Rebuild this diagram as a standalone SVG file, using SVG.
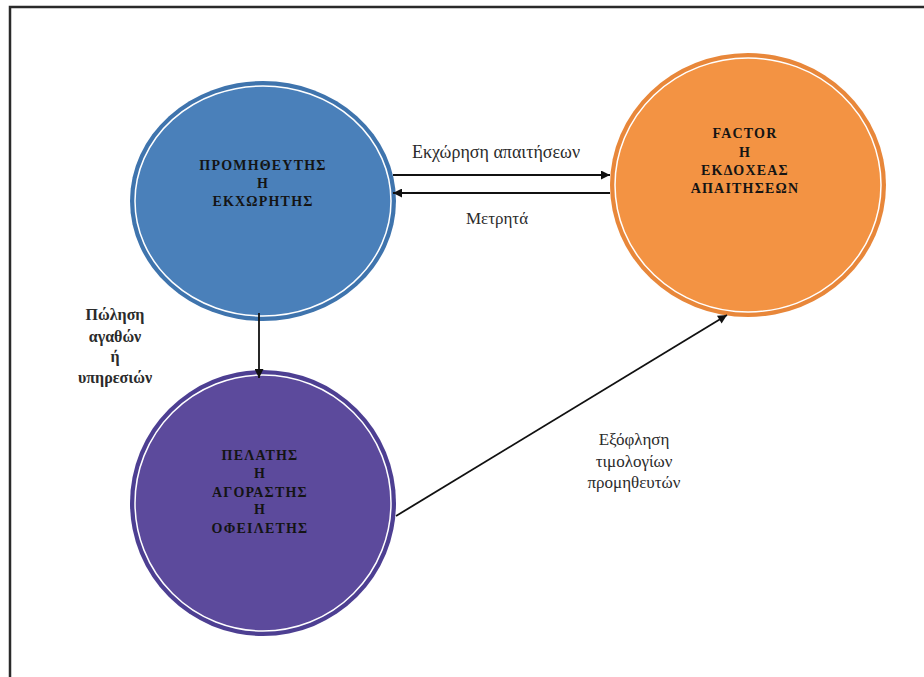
<svg xmlns="http://www.w3.org/2000/svg" width="924" height="677" viewBox="0 0 924 677">
<defs>
<style>
.frame{fill:#ffffff;stroke:#2a2a2a;stroke-width:2.5}
.ring{fill:none;stroke:#ffffff;stroke-width:1.5}
.node text{font-family:"Liberation Serif","Times New Roman",serif;font-weight:bold;font-size:14px;letter-spacing:1.2px;fill:#141414;text-anchor:middle}
.lbl{font-family:"Liberation Serif","Times New Roman",serif;font-size:17px;fill:#2b2b2b;text-anchor:middle}
.lblb{font-weight:bold;font-size:16px}
.big{font-size:18px}
.conn line{stroke:#111111;stroke-width:1.8}
</style>
<marker id="ah" viewBox="0 0 10 10" refX="10" refY="5" markerWidth="10" markerHeight="9" markerUnits="userSpaceOnUse" orient="auto">
<path d="M0,0 L10,5 L0,10 z" fill="#111111"/>
</marker>
</defs>
<rect x="0" y="0" width="924" height="677" fill="#ffffff"/>
<rect class="frame" x="10" y="7" width="930" height="690"/>

<g id="node-supplier" class="node">
<ellipse cx="263" cy="201" rx="133" ry="120" fill="#3f74ad"/>
<ellipse cx="263" cy="201" rx="128" ry="115" fill="#4a80ba"/>
<ellipse class="ring" cx="263" cy="201" rx="128" ry="115"/>
<text x="263" y="170">ΠΡΟΜΗΘΕΥΤΗΣ</text>
<text x="263" y="188">Η</text>
<text x="263" y="206">ΕΚΧΩΡΗΤΗΣ</text>
</g>

<g id="node-factor" class="node">
<ellipse cx="748" cy="185" rx="138" ry="132" fill="#e8873a"/>
<ellipse cx="748" cy="185" rx="133" ry="127" fill="#f39343"/>
<ellipse class="ring" cx="748" cy="185" rx="133" ry="127"/>
<text x="745" y="138">FACTOR</text>
<text x="745" y="157">Η</text>
<text x="745" y="175">ΕΚΔΟΧΕΑΣ</text>
<text x="745" y="193">ΑΠΑΙΤΗΣΕΩΝ</text>
</g>

<g id="node-customer" class="node">
<ellipse cx="263" cy="503" rx="133" ry="133" fill="#4d3f92"/>
<ellipse cx="263" cy="503" rx="128" ry="128" fill="#5c4a9c"/>
<ellipse class="ring" cx="263" cy="503" rx="128" ry="128"/>
<text x="260" y="460">ΠΕΛΑΤΗΣ</text>
<text x="260" y="478">Η</text>
<text x="260" y="497">ΑΓΟΡΑΣΤΗΣ</text>
<text x="260" y="514">Η</text>
<text x="260" y="533">ΟΦΕΙΛΕΤΗΣ</text>
</g>

<g id="connectors" class="conn">
<line x1="393" y1="175" x2="610" y2="175" marker-end="url(#ah)"/>
<line x1="610" y1="193" x2="393" y2="193" marker-end="url(#ah)"/>
<line x1="259" y1="313" x2="259" y2="378" marker-end="url(#ah)"/>
<line x1="396" y1="516" x2="727" y2="315" marker-end="url(#ah)"/>
</g>

<g id="labels">
<text class="lbl big" x="496" y="158">Εκχώρηση απαιτήσεων</text>
<text class="lbl" x="497" y="224">Μετρητά</text>
<text class="lbl lblb" x="115" y="320">Πώληση</text>
<text class="lbl lblb" x="115" y="342">αγαθών</text>
<text class="lbl lblb" x="115" y="362">ή</text>
<text class="lbl lblb" x="115" y="383">υπηρεσιών</text>
<text class="lbl" x="634" y="445">Εξόφληση</text>
<text class="lbl" x="634" y="467">τιμολογίων</text>
<text class="lbl" x="634" y="488">προμηθευτών</text>
</g>
</svg>
